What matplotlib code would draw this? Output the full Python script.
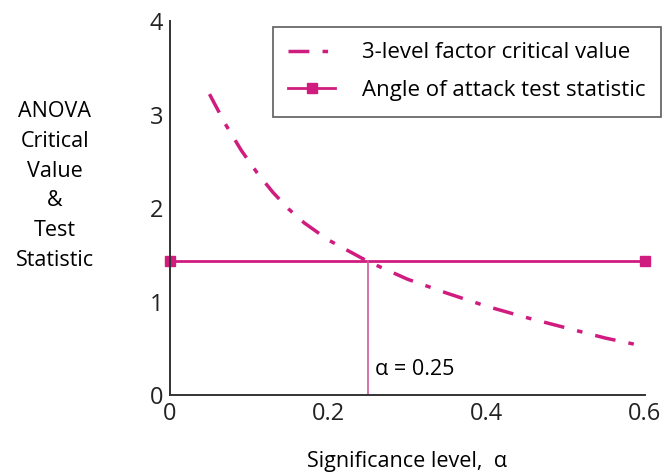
import matplotlib
matplotlib.use("Agg")
import matplotlib.pyplot as plt

plt.rcParams["font.family"] = ["Open Sans", "DejaVu Sans"]
plt.rcParams["font.size"] = 15

# critical value of the 3-level factor vs. significance level
alpha = [0.05, 0.07, 0.09, 0.11, 0.13, 0.15, 0.17, 0.20, 0.25,
         0.30, 0.35, 0.40, 0.45, 0.50, 0.55, 0.60]
f_crit = [3.22, 2.90, 2.62, 2.38, 2.17, 1.99, 1.84, 1.66, 1.43,
          1.24, 1.09, 0.95, 0.83, 0.72, 0.61, 0.52]

# test statistic for angle of attack (constant)
stat_x = [0.0, 0.6]
stat_y = [1.43, 1.43]
alpha_cross = 0.25

pink = "#d01c7e"

fig = plt.figure(figsize=(6.69, 4.72), dpi=100)
ax = fig.add_axes([0.254, 0.163, 0.71, 0.792])

ax.plot(alpha, f_crit, color=pink, lw=2.5, dashes=(6, 3.8, 1.6, 3.8),
        label="3-level factor critical value")
ax.plot(stat_x, stat_y, color=pink, lw=2, marker="s", ms=7,
        clip_on=False, label="Angle of attack test statistic")
ax.plot([alpha_cross, alpha_cross], [0, stat_y[0]], color="#cc5a98", lw=1.2)
ax.text(alpha_cross + 0.009, 0.27, "α = 0.25", fontsize=15.5, va="center")

ax.set_xlim(0, 0.6)
ax.set_ylim(0, 4)
ax.set_xticks([0, 0.2, 0.4, 0.6])
ax.set_xticklabels(["0", "0.2", "0.4", "0.6"])
ax.set_yticks([0, 1, 2, 3, 4])
ax.tick_params(length=0, labelsize=17, pad=5, colors="#222222")
for s in ["top", "right"]:
    ax.spines[s].set_visible(False)
for s in ["left", "bottom"]:
    ax.spines[s].set_color("#333333")
    ax.spines[s].set_linewidth(1.4)

ax.set_xlabel("Significance level,  α", fontsize=15.5, labelpad=18)
fig.text(0.082, 0.606, "ANOVA\nCritical\nValue\n&\nTest\nStatistic",
         ha="center", va="center", multialignment="center",
         fontsize=15.5, linespacing=1.55)

leg = ax.legend(loc="upper right", bbox_to_anchor=(1.033, 0.985), fontsize=16,
                fancybox=False, edgecolor="#333333", handlelength=2.1,
                borderpad=0.7, labelspacing=0.75, handletextpad=1.2,
                borderaxespad=0)
leg.get_frame().set_linewidth(1.2)

fig.savefig("out.png", dpi=100)
